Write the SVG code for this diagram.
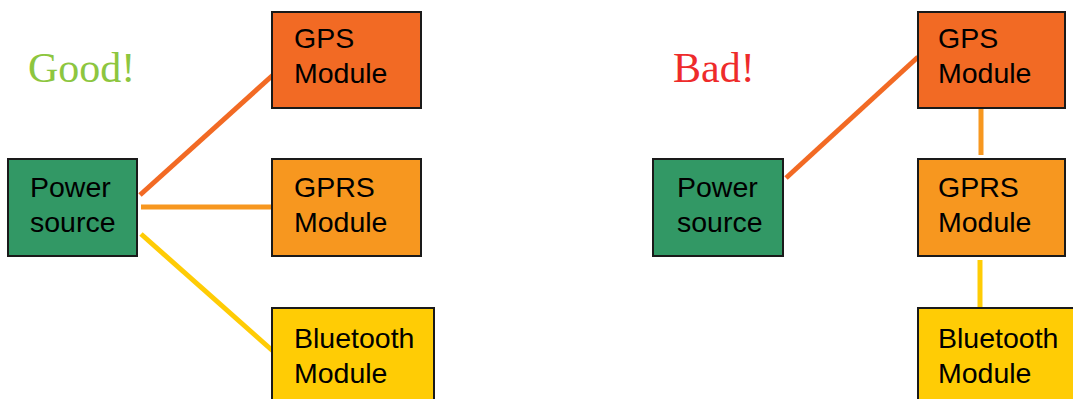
<svg xmlns="http://www.w3.org/2000/svg" width="1073" height="399" viewBox="0 0 1073 399">
<style>
.box{stroke:#1a1a1a;stroke-width:2}
.pw{fill:#329865}
.gps{fill:#F26A24}
.gprs{fill:#F7971F}
.bt{fill:#FFCC05}
.t{font-family:"Liberation Sans",Arial,sans-serif;font-size:28.5px;fill:#000}
.h{font-family:"Liberation Serif","Times New Roman",serif;font-size:42px}
.c{stroke-width:5;fill:none}
</style>
<rect width="1073" height="399" fill="#fff"/>
<text class="h" x="28" y="82" fill="#8DC63F">Good!</text>
<text class="h" x="673" y="82" fill="#EE2B2B">Bad!</text>
<g id="connectors">
<line class="c" x1="140" y1="195" x2="273" y2="75" stroke="#F26A24"/>
<line class="c" x1="141" y1="207" x2="273" y2="207" stroke="#F7971F"/>
<line class="c" x1="141" y1="234" x2="274" y2="352" stroke="#FFCC05"/>
<line class="c" x1="786" y1="178" x2="918" y2="57" stroke="#F26A24"/>
<line class="c" x1="981" y1="108" x2="981" y2="155" stroke="#F7971F"/>
<line class="c" x1="980" y1="260" x2="980" y2="308" stroke="#FFCC05"/>
</g>
<g id="power-good"><rect class="box pw" x="8" y="159" width="129" height="97"/><text class="t" x="30" y="197">Power</text><text class="t" x="30" y="232">source</text></g>
<g id="gps-good"><rect class="box gps" x="272" y="12" width="149" height="96"/><text class="t" x="294" y="48">GPS</text><text class="t" x="294" y="83">Module</text></g>
<g id="gprs-good"><rect class="box gprs" x="272" y="159" width="149" height="97"/><text class="t" x="294" y="197">GPRS</text><text class="t" x="294" y="232">Module</text></g>
<g id="bt-good"><rect class="box bt" x="272" y="308" width="162" height="100"/><text class="t" x="294" y="348">Bluetooth</text><text class="t" x="294" y="383">Module</text></g>
<g id="power-bad"><rect class="box pw" x="653" y="159" width="130" height="97"/><text class="t" x="677" y="197">Power</text><text class="t" x="677" y="232">source</text></g>
<g id="gps-bad"><rect class="box gps" x="918" y="12" width="147" height="96"/><text class="t" x="938" y="48">GPS</text><text class="t" x="938" y="83">Module</text></g>
<g id="gprs-bad"><rect class="box gprs" x="918" y="159" width="147" height="97"/><text class="t" x="938" y="197">GPRS</text><text class="t" x="938" y="232">Module</text></g>
<g id="bt-bad"><rect class="box bt" x="918" y="308" width="170" height="100"/><text class="t" x="938" y="348">Bluetooth</text><text class="t" x="938" y="383">Module</text></g>
</svg>
